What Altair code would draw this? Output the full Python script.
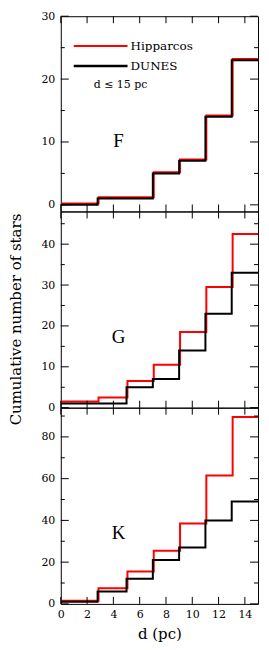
import altair as alt
import pandas as pd

# step edges (pc)
x_dunes = [0, 2.8, 5, 7, 9, 11, 13, 15]
x_hipp = [0, 2.87, 5.07, 7.07, 9.07, 11.07, 13.07, 15]

# cumulative counts per interval
F_dunes = [0, 1, 1, 5, 7, 14, 23]
F_hipp = [0.2, 1.2, 1.2, 5.2, 7.2, 14.2, 23.2]
G_dunes = [1, 1, 5, 7, 14, 23, 33]
G_hipp = [1.5, 2.5, 6.5, 10.5, 18.5, 29.5, 42.5]
K_dunes = [1, 6, 12, 21, 27, 40, 49]
K_hipp = [1.5, 7.5, 15.5, 25.5, 38.5, 61.5, 89.5]

x_ticks = [0, 2, 4, 6, 8, 10, 12, 14]
F_major = [0, 10, 20, 30]
F_minor = [5, 15, 25]
G_major = [0, 10, 20, 30, 40]
G_minor = [5, 15, 25, 35, 45]
K_major = [0, 20, 40, 60, 80]
K_minor = [10, 30, 50, 70, 90]

W = 198
SERIF = "DejaVu Serif"


def steps(xs, vals):
    return pd.DataFrame({"d": xs, "n": list(vals) + [vals[-1]]})


def panel(label, dunes, hipp, domain, major, minor, height, last, ytitle, legend):
    xaxis = None
    if last:
        xaxis = alt.Axis(values=x_ticks, ticks=False, domain=False, grid=False,
                         labelPadding=5, labelFlush=False, title="d (pc)",
                         titlePadding=7)
    yaxis = alt.Axis(values=major, ticks=False, domain=False, grid=False,
                     labelPadding=6, labelFlush=False,
                     title=ytitle if ytitle else None,
                     **({"titleX": -45, "titleY": 108, "titleBaseline": "middle"} if ytitle else {}))
    xs = alt.Scale(domain=[0, 15], nice=False, zero=False)
    ys = alt.Scale(domain=domain, nice=False, zero=False)
    xe = alt.X("d:Q", scale=xs, axis=xaxis)
    ye = alt.Y("n:Q", scale=ys, axis=yaxis)

    red = alt.Chart(steps(x_hipp, hipp)).mark_line(
        color="#ff0000", strokeWidth=2, interpolate="step-after", clip=True
    ).encode(x=xe, y=ye)
    blk = alt.Chart(steps(x_dunes, dunes)).mark_line(
        color="black", strokeWidth=2, interpolate="step-after", clip=True
    ).encode(x=xe, y=ye)

    maj = pd.DataFrame({"n": major})
    mino = pd.DataFrame({"n": minor})
    xt = pd.DataFrame({"d": x_ticks})
    layers = [red, blk]
    for df, ln in ((maj, 8), (mino, 4)):
        layers.append(alt.Chart(df).mark_rule(color="black", strokeWidth=1).encode(
            y=ye, x=alt.value(0), x2=alt.value(ln)))
        layers.append(alt.Chart(df).mark_rule(color="black", strokeWidth=1).encode(
            y=ye, x=alt.value(W), x2=alt.value(W - ln)))
    layers.append(alt.Chart(xt).mark_rule(color="black", strokeWidth=1).encode(
        x=xe, y=alt.value(0), y2=alt.value(7)))
    layers.append(alt.Chart(xt).mark_rule(color="black", strokeWidth=1).encode(
        x=xe, y=alt.value(height), y2=alt.value(height - 7)))

    one = pd.DataFrame({"a": [0]})
    layers.append(alt.Chart(one).mark_text(
        text=label, font="Liberation Serif", fontSize=19, color="black"
    ).encode(x=alt.value(58), y=alt.value(height * 0.64)))

    if legend:
        layers.append(alt.Chart(one).mark_rule(color="#ff0000", strokeWidth=2).encode(
            x=alt.value(13), x2=alt.value(67), y=alt.value(30)))
        layers.append(alt.Chart(one).mark_rule(color="black", strokeWidth=2.5).encode(
            x=alt.value(13), x2=alt.value(67), y=alt.value(50)))
        layers.append(alt.Chart(one).mark_text(
            text="Hipparcos", font=SERIF, fontSize=12, align="left", baseline="middle",
            color="black").encode(x=alt.value(70), y=alt.value(30)))
        layers.append(alt.Chart(one).mark_text(
            text="DUNES", font=SERIF, fontSize=12, align="left", baseline="middle",
            color="black").encode(x=alt.value(70), y=alt.value(50)))
        layers.append(alt.Chart(one).mark_text(
            text="d  \u2264  15  pc", font=SERIF, fontSize=11, align="left",
            baseline="middle", color="black").encode(x=alt.value(33), y=alt.value(69)))

    return alt.layer(*layers).properties(width=W, height=height)


pF = panel("F", F_dunes, F_hipp, [-1.05, 30], F_major, F_minor, 196, False, None, True)
pG = panel("G", G_dunes, G_hipp, [0, 48], G_major, G_minor, 197, False,
           "Cumulative number of stars", False)
pK = panel("K", K_dunes, K_hipp, [0, 94], K_major, K_minor, 197, True, None, False)

chart = alt.vconcat(pF, pG, pK, spacing=0, bounds="flush").properties(
    padding={"left": 0, "top": 0, "right": 2, "bottom": 2}
).configure_view(
    stroke="black", strokeWidth=1
).configure_axis(
    labelFont=SERIF, labelFontSize=11, labelColor="black",
    titleFont=SERIF, titleFontSize=15, titleFontWeight="normal", titleColor="black"
)

chart.save("out.html", embed_options={"renderer": "svg", "actions": False})
